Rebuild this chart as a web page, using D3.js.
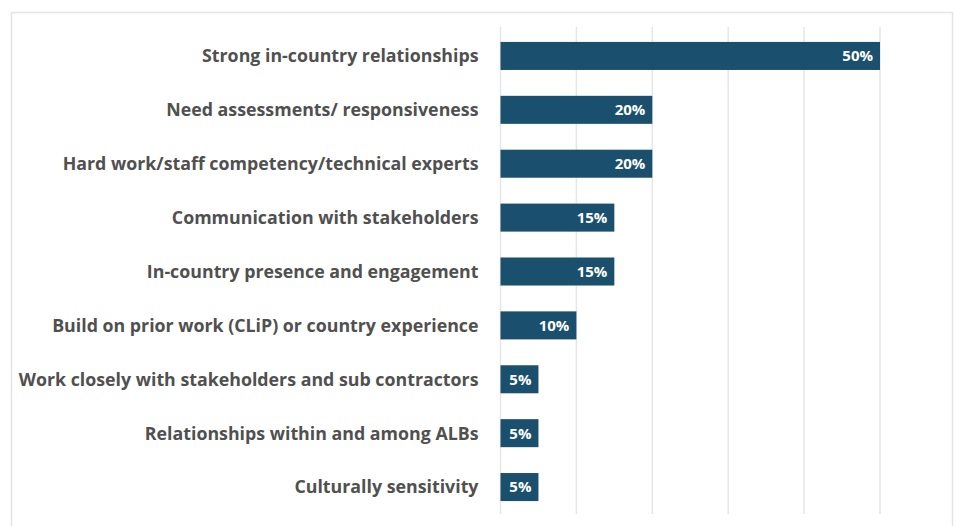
<!DOCTYPE html>
<html>
<head>
<meta charset="utf-8">
<script src="https://cdn.jsdelivr.net/npm/d3@7"></script>
<style>
  html, body { margin: 0; padding: 0; background: #fff; }
  svg { display: block; }
</style>
</head>
<body>
<svg id="chart" width="955" height="526"></svg>
<script>
// Success factors cited, share of respondents (%)
const categories = [
  "Strong in-country relationships",
  "Need assessments/ responsiveness",
  "Hard work/staff competency/technical experts",
  "Communication with stakeholders",
  "In-country presence and engagement",
  "Build on prior work (CLiP) or country experience",
  "Work closely with stakeholders and sub contractors",
  "Relationships within and among ALBs",
  "Culturally sensitivity"
];
const values = [50, 20, 20, 15, 15, 10, 5, 5, 5];
const gridTicks = [0, 10, 20, 30, 40, 50];

const svg = d3.select("#chart");

// Chart frame
svg.append("rect")
  .attr("x", 11.5).attr("y", 12.5)
  .attr("width", 941).attr("height", 530)
  .attr("fill", "#fff")
  .attr("stroke", "#e4e4e4")
  .attr("stroke-width", 1.5);

const plot = { left: 500.5, right: 880, top: 29, bottom: 514 };

const x = d3.scaleLinear().domain([0, 50]).range([plot.left, plot.right]);
const y = d3.scaleBand().domain(categories).range([plot.top, plot.bottom]).paddingInner(0.48).paddingOuter(0.24);

// Vertical gridlines
svg.append("g")
  .selectAll("line")
  .data(gridTicks)
  .join("line")
  .attr("x1", d => x(d)).attr("x2", d => x(d))
  .attr("y1", plot.top - 2).attr("y2", plot.bottom)
  .attr("stroke", "#e6e6e6")
  .attr("stroke-width", 1.5);

// Bars
svg.append("g")
  .selectAll("rect")
  .data(values)
  .join("rect")
  .attr("x", x(0))
  .attr("y", (d, i) => y(categories[i]))
  .attr("width", d => x(d) - x(0))
  .attr("height", y.bandwidth())
  .attr("fill", "#1a4f6e");

// Value labels inside bar ends
svg.append("g")
  .selectAll("text")
  .data(values)
  .join("text")
  .attr("x", d => x(d) - 7)
  .attr("y", (d, i) => y(categories[i]) + y.bandwidth() / 2)
  .attr("dy", "0.36em")
  .attr("text-anchor", "end")
  .attr("fill", "#fff")
  .attr("font-family", "'Open Sans', sans-serif")
  .attr("font-weight", 700)
  .attr("font-size", 15)
  .text(d => d + "%");

// Category labels
svg.append("g")
  .selectAll("text")
  .data(categories)
  .join("text")
  .attr("x", plot.left - 22)
  .attr("y", d => y(d) + y.bandwidth() / 2)
  .attr("dy", "0.36em")
  .attr("text-anchor", "end")
  .attr("fill", "#505050")
  .attr("font-family", "'Open Sans', sans-serif")
  .attr("font-weight", 700)
  .attr("font-size", 17.8)
  .text(d => d);
</script>
</body>
</html>
